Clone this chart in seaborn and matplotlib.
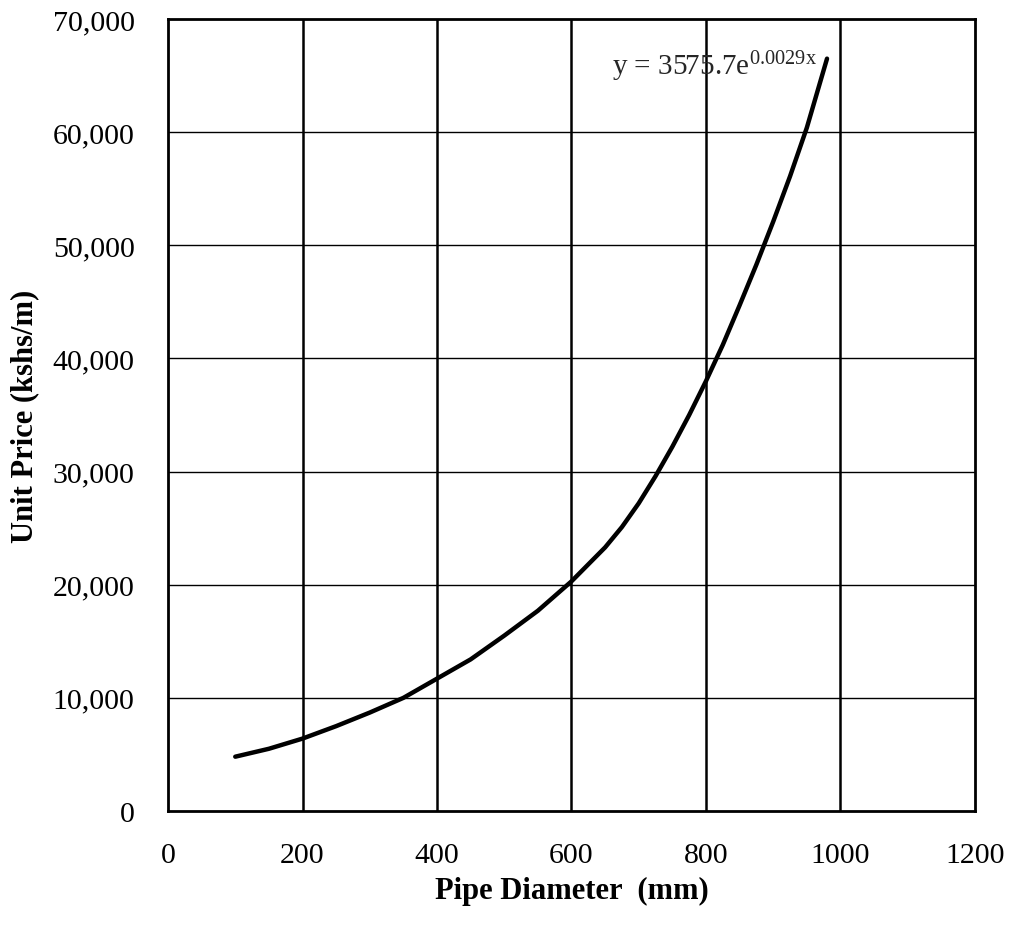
import matplotlib
matplotlib.use('Agg')
import matplotlib.pyplot as plt
import seaborn as sns
import pandas as pd

# values
diameter = [100, 150, 200, 250, 300, 350, 400, 450, 500, 550, 600,
            650, 675, 700, 725, 750, 775, 800, 825, 850, 875, 900, 925, 950, 980]
unit_price = [4800, 5500, 6400, 7500, 8700, 10000, 11700, 13400, 15500, 17700, 20300,
              23300, 25100, 27200, 29600, 32200, 35000, 38000, 41200, 44700, 48300,
              52100, 56100, 60400, 66500]

x_ticks = [0, 200, 400, 600, 800, 1000, 1200]
y_ticks = [0, 10000, 20000, 30000, 40000, 50000, 60000, 70000]
y_tick_labels = ['0', '10,000', '20,000', '30,000', '40,000', '50,000', '60,000', '70,000']

sns.set_style('white')
plt.rcParams['font.family'] = ['Liberation Serif', 'DejaVu Serif']
plt.rcParams['mathtext.fontset'] = 'custom'
plt.rcParams['mathtext.rm'] = 'Liberation Serif'
plt.rcParams['mathtext.it'] = 'Liberation Serif'

df = pd.DataFrame({'Diameter': diameter, 'Price': unit_price})

fig = plt.figure(figsize=(10.14, 9.28), dpi=100)
ax = fig.add_axes([0.1657, 0.125, 0.7958, 0.8534])

sns.lineplot(data=df, x='Diameter', y='Price', color='black', linewidth=3.2, ax=ax)

ax.set_xlim(0, 1200)
ax.set_ylim(0, 70000)
ax.set_xticks(x_ticks)
ax.set_xticklabels([str(t) for t in x_ticks])
ax.set_yticks(y_ticks)
ax.set_yticklabels(y_tick_labels)
ax.tick_params(axis='both', length=0, labelsize=21.5, colors='black')
ax.tick_params(axis='x', pad=22)
ax.tick_params(axis='y', pad=24)

# grid: vertical lines heavier than horizontal ones
for xv in x_ticks[1:-1]:
    ax.axvline(xv, color='black', linewidth=1.8, zorder=0)
for yv in y_ticks[1:-1]:
    ax.axhline(yv, color='black', linewidth=1.0, zorder=0)

for s in ax.spines.values():
    s.set_visible(True)
    s.set_color('black')
    s.set_linewidth(2)

ax.set_xlabel('Pipe Diameter  (mm)', fontsize=22, fontweight='bold', color='black', labelpad=6)
ax.set_ylabel('Unit Price (kshs/m)', fontsize=22, fontweight='bold', color='black', labelpad=10)

ax.text(660, 65900, r'y = 3575.7e$^{0.0029x}$', fontsize=21, ha='left', va='center')

fig.savefig('out.png', dpi=100)
